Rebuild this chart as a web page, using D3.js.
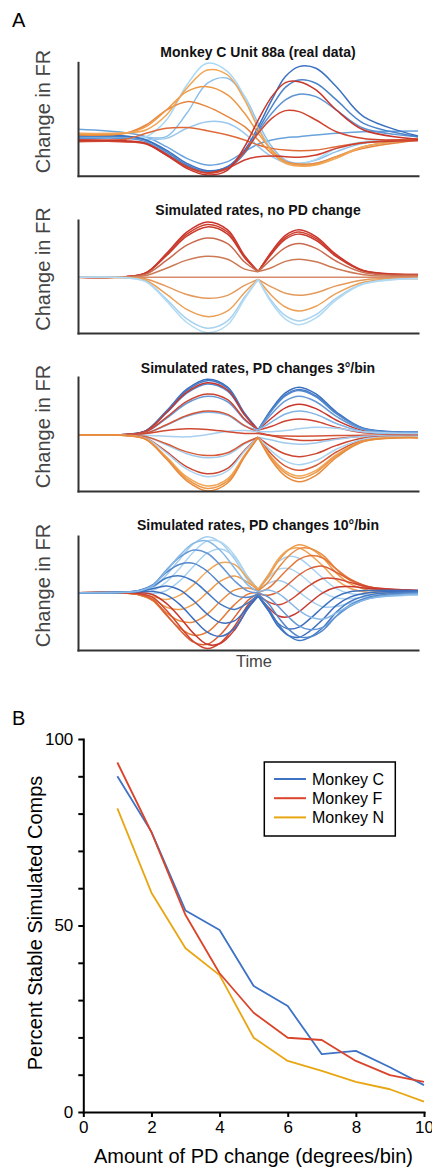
<!DOCTYPE html>
<html><head><meta charset="utf-8">
<script src="https://cdn.jsdelivr.net/npm/d3@7"></script>
<style>
body{margin:0;background:#fff;}
svg{display:block;font-family:"Liberation Sans",Arial,Helvetica,sans-serif;}
</style></head><body>
<svg id="chart" width="432" height="1170"></svg>
<script>
// ---------- DATA (panel A: change in firing rate, arbitrary units 0-100 of each panel) ----------
const timeA = [0,14,20,26,32,38,44,49,53,57,61,65,70,76,84,100];
const timeD = [0,14,18,22,26,30,34,38,42,46,50,53,56,59,62,65,68,72,76,80,86,100];

const panelTitles = ["Monkey C Unit 88a (real data)", "Simulated rates, no PD change",
                     "Simulated rates, PD changes 3°/bin", "Simulated rates, PD changes 10°/bin"];

// Panel 1: real data
const realValues = [
  [40.9,37.9,34.4,25.6,15.3,9.4,12.4,21.2,27.9,31.5,33.5,34.4,35.9,37.4,38.8,39.4],
  [34.4,34.4,33.8,34.4,55,81.5,85.9,69.7,46.2,25.6,13.8,10.9,13.8,21.2,28.5,32.1],
  [33.8,33.8,32.1,32.9,41.8,47.6,46.2,37.4,25.6,16.8,11.5,9.4,10.9,16.8,25.6,31.5],
  [32.9,33.8,34.4,49.1,80,99.1,91.8,69.7,43.2,22.6,11.5,10.3,14.4,24.1,30,31.5],
  [32.9,32.9,30,19.7,8.5,3.5,7.9,21.2,38.8,55,66.8,71.8,69.7,57.9,41.8,34.4],
  [34.4,34.4,31.5,21.2,9.4,3.5,6.5,19.7,40.3,60.9,77.9,84.4,81.5,66.8,46.2,34.4],
  [35.9,35,31.5,22.6,10.9,4.4,7.9,22.6,43.2,66.8,87.4,96.2,94.7,78.5,52.1,35],
  [31.5,32.1,37.4,41.8,42.4,39.7,35.9,31.5,27.1,24.1,22.6,22.1,22.6,25.6,29.1,32.9],
  [35.9,37.4,44.7,57.9,65.3,60.9,52.1,43.2,31.5,19.7,12.4,10.3,10.9,16.8,24.1,31.5],
  [36.8,37.4,43.2,57.9,74.1,78.5,71.2,55,37.4,22.6,12.4,9.4,10.3,16.8,25.6,32.9],
  [37.4,37.9,40.3,53.5,77.1,93.2,88.8,66.8,41.8,21.2,10.9,8.5,9.4,15.3,25.6,32.1],
  [30.9,30,28.5,19.1,7.9,2.6,6.5,13.8,16.8,17.4,16.8,16.2,18.2,24.1,29.1,30.9],
  [30,30,27.9,18.2,7.9,2.1,6.5,21.2,37.4,50.6,57.4,56.5,49.1,38.8,32.9,31.5],
  [31.5,30.9,28.5,18.2,6.5,0.6,5,25.6,49.1,69.7,82.1,82.9,75.6,57.9,40.3,32.1]
];
const realColors = ["#6aa3dc","#8cbfea","#9bc8ec","#a9d8f5","#5d95d4","#4c84ca","#3b71c1",
                    "#de6a3a","#e7843d","#ee9846","#f2a553","#cc3e2e","#d0452f","#c8352b"];

// Panel 2: no PD change
const noChangeValues = [
  [49.3,49.8,53.3,70.3,89.3,98.3,91.3,68.3,54.3,72.3,86.3,91.3,85.3,69.3,55.3,51.8],
  [49.3,49.8,53.1,69.3,87.5,96.1,89.4,67.4,54.3,71.3,84.6,89.4,83.7,68.4,55,51.7],
  [49.3,49.8,52.9,68.4,85.7,93.9,87.5,66.6,54.3,70.2,83,87.5,82.1,67.5,54.8,51.6],
  [49.3,49.7,52.1,64.2,77.7,84.1,79.1,62.8,54.3,65.6,75.6,79.1,74.9,63.5,53.6,51.1],
  [49.3,49.5,50.8,57.3,64.5,67.9,65.3,56.5,54.3,58,63.4,65.3,63,56.9,51.6,50.3],
  [49.3,49.3,49.3,49.3,49.3,49.3,49.3,49.3,49.3,49.3,49.3,49.3,49.3,49.3,49.3,49.3],
  [49.3,49.1,47.8,41.3,34.1,30.7,33.3,42.1,47.5,40.6,35.2,33.3,35.6,41.7,47,48.3],
  [49.3,48.9,46.5,34.4,20.9,14.5,19.5,35.8,47.5,33,23,19.5,23.7,35.1,45,48.3],
  [49.3,48.8,45.6,30,12.5,4.2,10.7,31.8,47.5,28.1,15.3,10.7,16.2,30.9,43.8,48.3],
  [49.3,48.8,45.3,28.3,9.3,0.3,7.3,30.3,47.5,26.3,12.3,7.3,13.3,29.3,43.3,48.3]
];
const noChangeColors = ["#c9352c","#cf3f2f","#c83b2c","#c96b4e","#cc7a55","#d98a6a",
                        "#e49a5c","#eba055","#a6d1ef","#b3daf3"];

// Panel 3: PD changes 3 deg/bin
const slowValues = [
  [49.1,49.6,53.0,70.2,89.3,98.1,91.2,68.2,53.5,72.2,86.1,91.1,85.2,69.3,55,51.6],
  [49.1,49.6,52.9,69.6,88.2,96.8,90.1,67.7,53.5,71.1,84.3,89.1,83.5,68.3,54.7,51.5],
  [49.1,49.5,52.7,68.4,85.8,93.9,87.6,66.6,53.5,70.6,83.4,88.1,82.6,67.8,54.6,51.4],
  [49.1,49.6,52.8,68.8,86.7,95.0,88.6,67.0,53.5,64.0,72.9,76.1,72.3,62.1,52.9,50.7],
  [49.1,49.4,51.8,63.7,77.0,83.1,78.3,62.4,53.5,67.8,79.0,83.1,78.3,65.4,53.9,51.1],
  [49.1,49.5,52.0,64.6,78.6,85.1,80.1,63.1,53.5,56.8,61.4,63.1,61.1,55.8,51.1,49.9],
  [49.1,49.3,50.7,57.7,65.5,69.1,66.3,56.9,53.5,60.7,67.6,70.1,67.2,59.2,52.0,50.4],
  [49.1,49.3,50.8,58.1,66.3,70.1,67.2,57.3,51.5,48.6,48.2,48.1,48.2,48.6,49.0,49.0],
  [49.1,49.1,49,48,47.5,49.5,52.5,53,52,52,53,54.5,56,55,52,50.5],
  [49.1,49.3,50.5,53,54.5,54,52,50.5,50.5,48.5,46,44.5,44.5,46,48,48.8],
  [49.1,48.9,47.5,40.5,32.7,29.1,31.9,41.3,47.1,44.7,42.1,41.1,42.2,45.3,48.0,48.6],
  [49.1,48.9,47.7,41.4,34.3,31.1,33.6,42.1,47.1,32.0,21.8,18.1,22.4,34.2,44.8,47.2],
  [49.1,48.8,46.4,34.5,21.2,15.1,19.9,35.8,47.1,38.6,32.4,30.1,32.8,40.0,46.4,48.0],
  [49.1,48.7,46.2,33.4,19.2,12.6,17.7,34.9,47.1,34.8,26.2,23.1,26.7,36.6,45.5,47.5],
  [49.1,48.7,45.5,29.9,12.4,4.4,10.7,31.7,47.1,29.3,17.4,13.1,18.1,31.8,44.1,47.0],
  [49.1,48.6,45.4,29.0,10.7,2.3,8.9,30.8,47.1,28.2,15.7,11.1,16.4,30.9,43.8,46.8],
  [49.1,48.6,45.2,28.0,8.9,0.1,7.0,30.0,47.1,26.5,13.0,8.1,13.8,29.4,43.4,46.6]
];
const slowColors = ["#3a70c1","#4479c5","#5288cd","#c8352b","#6699d6","#cd4432","#82b4e3",
                    "#d2553a","#a8cfef","#cf4a32","#9fcaec","#d65a36","#cc4530","#a9d3f1",
                    "#f0a656","#ec9848","#e88a3c"];

// Panel 4: PD changes 10 deg/bin
const fastValues = [
  [50.3,50.4,51.1,54.5,65.7,79.9,93.2,99.3,94.1,79.9,61.1,52.2,58.4,60.9,57.5,50.9,44.1,37.8,38.1,41.3,45.7,48.5],
  [50.3,50.2,50.3,52.1,59.7,72.0,86.0,95.6,94.7,83.2,63.7,53.0,63.1,70.8,71.4,67.0,59.6,50.5,45.6,45.0,46.7,48.3],
  [50.3,50.0,49.6,49.3,52.2,60.8,73.5,84.9,88.6,81.6,64.2,53.3,65.8,77.6,82.1,80.5,73.8,63.1,53.8,49.5,48.3,48.4],
  [50.3,49.9,48.9,46.8,44.4,48.1,57.4,69.1,76.6,75.1,62.7,53.2,66.1,80.3,88.0,89.4,84.4,73.8,61.5,54.2,50.2,48.8],
  [50.3,49.8,48.5,44.7,37.5,35.6,40.3,50.3,60.6,65.0,59.2,52.6,64.1,78.4,88.1,92.3,89.8,80.9,67.4,58.2,52.1,49.5],
  [50.3,49.8,48.3,43.5,32.6,25.4,24.6,31.5,43.0,52.5,54.4,51.7,59.9,72.2,82.5,88.9,89.2,83.3,70.8,61.1,53.8,50.2],
  [50.3,49.9,48.4,43.4,30.4,19.0,12.9,15.7,26.6,39.8,49.0,50.5,54.3,62.7,71.9,79.5,82.7,80.7,71.0,62.3,54.9,51.0],
  [50.3,50.0,48.8,44.3,31.2,17.4,6.9,5.0,13.8,28.6,43.7,49.4,48.0,51.2,58.1,65.8,71.2,73.5,68.1,61.7,55.3,51.7],
  [50.3,50.2,49.5,46.1,34.9,20.7,7.4,1.3,6.5,20.7,39.5,48.4,42.2,39.7,43.1,49.6,56.5,62.8,62.5,59.3,55.0,52.1],
  [50.3,50.4,50.3,48.5,40.9,28.6,14.6,5.0,5.9,17.4,36.9,47.6,37.5,29.8,29.2,33.6,41.0,50.1,55.0,55.6,53.9,52.3],
  [50.3,50.6,51.0,51.3,48.4,39.8,27.1,15.7,12.0,19.0,36.4,47.3,34.8,23.0,18.5,20.1,26.8,37.5,46.8,51.1,52.3,52.2],
  [50.3,50.7,51.7,53.8,56.2,52.5,43.2,31.5,24.0,25.5,37.9,47.4,34.5,20.3,12.6,11.2,16.2,26.8,39.1,46.4,50.4,51.8],
  [50.3,50.8,52.1,55.9,63.1,65.0,60.3,50.3,40.0,35.6,41.4,48.0,36.5,22.2,12.5,8.3,10.8,19.7,33.2,42.4,48.5,51.1],
  [50.3,50.8,52.3,57.1,68.0,75.2,76.0,69.1,57.6,48.1,46.2,48.9,40.7,28.4,18.1,11.7,11.4,17.3,29.8,39.5,46.8,50.4],
  [50.3,50.7,52.2,57.2,70.2,81.6,87.7,84.9,74.0,60.8,51.6,50.1,46.3,37.9,28.7,21.1,17.9,19.9,29.6,38.3,45.7,49.6],
  [50.3,50.6,51.8,56.3,69.4,83.2,93.7,95.6,86.8,72.0,56.9,51.2,52.6,49.4,42.5,34.8,29.4,27.1,32.5,38.9,45.3,48.9]
];
const fastColors = ["#a3cdef","#b0d6f2","#a9d2f0","#f0a658","#ee9b4a","#e98b41","#e37838","#da5f35",
                    "#cf4530","#c8382c","#3e70be","#3b6ebf","#4279c4","#5286cc","#6597d6","#86b8e6"];

// ---------- DATA (panel B) ----------
const pdChange = [1,2,3,4,5,6,7,8,9,10];
const monkeyC = [90,75.1,54,48.8,33.8,28.4,15.5,16.4,12,7.2];
const monkeyF = [93.7,75,52.8,37.2,26.6,19.9,19.3,13.7,9.9,8.1];
const monkeyN = [81.4,58.8,43.9,36.7,19.9,13.7,11,8.1,6.1,2.8];
const seriesNames = ["Monkey C","Monkey F","Monkey N"];
const xTicksB = [0,2,4,6,8,10];
const yTicksB = [0,10,20,30,40,50,60,70,80,90,100];
const yLabelsB = [0,50,100];

// ---------- DRAW ----------
const svg = d3.select("#chart");
const FONT = '"Liberation Sans",Arial,Helvetica,sans-serif';

svg.append("text").attr("x",12).attr("y",27).attr("font-size",20).attr("fill","#000").text("A");
svg.append("text").attr("x",12).attr("y",725).attr("font-size",20).attr("fill","#000").text("B");

const panelBoxes = [[62.3,175.7],[220,333],[377,491],[536,650]];
const titleY = [57.3,215,372.7,530];
const panels = [
  {times:timeA, values:realValues, colors:realColors, cusp:null},
  {times:timeA, values:noChangeValues, colors:noChangeColors, cusp:53},
  {times:timeA, values:slowValues, colors:slowColors, cusp:53},
  {times:timeD, values:fastValues, colors:fastColors, cusp:53}
];

panels.forEach((p,i)=>{
  const [top,bottom] = panelBoxes[i];
  const x = d3.scaleLinear().domain([0,100]).range([78,418]);
  const y = d3.scaleLinear().domain([0,100]).range([bottom,top]);
  const g = svg.append("g");
  const line = d3.line().x(d=>x(d[0])).y(d=>y(d[1])).curve(d3.curveCatmullRom.alpha(0.5));
  p.values.forEach((vals,j)=>{
    const pts = p.times.map((t,k)=>[t,vals[k]]);
    let dstr;
    if(p.cusp!==null){
      dstr = line(pts.filter(q=>q[0]<=p.cusp)) + line(pts.filter(q=>q[0]>=p.cusp));
    } else dstr = line(pts);
    g.append("path").attr("d",dstr).attr("fill","none")
      .attr("stroke",p.colors[j]).attr("stroke-width",1.5).attr("stroke-linejoin","round");
  });
  const ax = g.append("g").attr("transform","translate(78,0)")
    .call(d3.axisLeft(y).tickValues([]).tickSizeOuter(0));
  const bx = g.append("g").attr("transform",`translate(0,${bottom})`)
    .call(d3.axisBottom(x).tickValues([]).tickSizeOuter(0));
  [ax,bx].forEach(a=>a.select(".domain").attr("stroke","#333").attr("stroke-width",2).attr("stroke-linecap","square"));
  svg.append("text").attr("x",258).attr("y",titleY[i]).attr("text-anchor","middle")
    .attr("font-size",14).attr("font-weight","bold").attr("fill","#111").text(panelTitles[i]);
  svg.append("text").attr("transform",`translate(50,${(top+bottom)/2-7.5}) rotate(-90)`)
    .attr("text-anchor","middle").attr("font-size",20).attr("fill","#444").text("Change in FR");
});
svg.append("text").attr("x",254).attr("y",666.7).attr("text-anchor","middle")
  .attr("font-size",16.5).attr("fill","#444").text("Time");

// Panel B
const xB = d3.scaleLinear().domain([0,10]).range([83.3,424]);
const yB = d3.scaleLinear().domain([0,100]).range([1112,739]);
const gB = svg.append("g");
const lineB = d3.line().x((d,i)=>xB(pdChange[i])).y(d=>yB(d));
const seriesB = [monkeyC, monkeyF, monkeyN];
const colorsB = ["#3d72c5","#d9442a","#e8a613"];
// draw N first, then C, then F (F on top as in reference crossings)
[2,0,1].forEach(k=>{
  gB.append("path").attr("d",lineB(seriesB[k])).attr("fill","none")
    .attr("stroke",colorsB[k]).attr("stroke-width",1.8).attr("stroke-linejoin","round");
});
const axX = gB.append("g").attr("transform","translate(0,1112)")
  .call(d3.axisBottom(xB).tickValues(xTicksB).tickSize(5).tickSizeOuter(0).tickPadding(4).tickFormat(d3.format("d")));
const axY = gB.append("g").attr("transform","translate(83.3,0)")
  .call(d3.axisLeft(yB).tickValues(yTicksB).tickSize(5).tickSizeOuter(0).tickPadding(5)
    .tickFormat(d=>yLabelsB.includes(d)?d:""));
[axX,axY].forEach(a=>{
  a.select(".domain").attr("stroke","#000").attr("stroke-width",2).attr("stroke-linecap","square");
  a.selectAll(".tick line").attr("stroke","#000").attr("stroke-width",2);
  a.selectAll(".tick text").attr("font-size",17).attr("font-family",FONT).attr("fill","#000");
});
svg.append("text").attr("x",253.5).attr("y",1163).attr("text-anchor","middle")
  .attr("font-size",20).attr("fill","#000").text("Amount of PD change (degrees/bin)");
svg.append("text").attr("transform","translate(42,923) rotate(-90)").attr("text-anchor","middle")
  .attr("font-size",20).attr("fill","#000").text("Percent Stable Simulated Comps");

// legend
const lg = svg.append("g");
lg.append("rect").attr("x",264.3).attr("y",762).attr("width",131).attr("height",74)
  .attr("fill","#fff").attr("stroke","#000").attr("stroke-width",1.5);
seriesNames.forEach((n,i)=>{
  const yy = 779 + i*19.2;
  lg.append("line").attr("x1",274).attr("x2",306).attr("y1",yy).attr("y2",yy)
    .attr("stroke",colorsB[i]).attr("stroke-width",2);
  lg.append("text").attr("x",312).attr("y",yy).attr("dy","0.36em").attr("font-size",16)
    .attr("fill","#000").text(n);
});
</script></body></html>
